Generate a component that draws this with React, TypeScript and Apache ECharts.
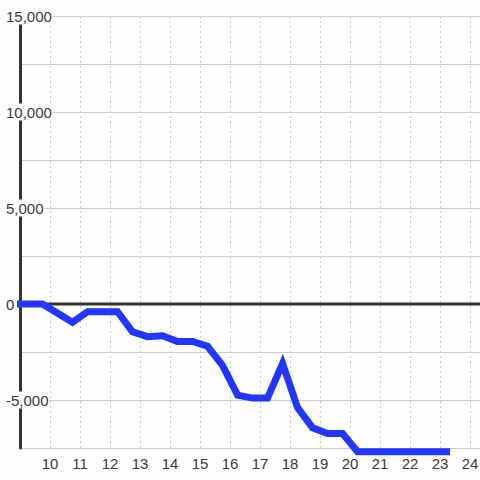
import React, { useEffect, useRef } from "react";
import * as echarts from "echarts";

const hours = [8.9, 9.75, 10.75, 11.25, 12.25, 12.75, 13.25, 13.75, 14.25, 14.75, 15.25, 15.75, 16.25, 16.75, 17.25, 17.75, 18.25, 18.75, 19.25, 19.75, 20.25, 23.33];
const values = [0, 0, -950, -400, -400, -1450, -1700, -1650, -1950, -1950, -2200, -3200, -4750, -4900, -4900, -3100, -5400, -6450, -6750, -6750, -7700, -7700];
const xTicks = [10, 11, 12, 13, 14, 15, 16, 17, 18, 19, 20, 21, 22, 23, 24];
const yLabelled = [-5000, 0, 5000, 10000, 15000];

const BG = "#fdfefd";
const FONT = "'Liberation Sans', Arial, sans-serif";

export default function App() {
  const ref = useRef<HTMLDivElement>(null);
  useEffect(() => {
    document.body.style.margin = "0";
    if (!ref.current) return;
    const chart = echarts.init(ref.current, null, { renderer: "svg" });
    chart.setOption({
      animation: false,
      backgroundColor: BG,
      grid: { left: 20, right: 0, top: 16, bottom: 32, containLabel: false, outerBoundsMode: "none" },
      xAxis: {
        type: "value",
        min: 9,
        max: 24.33,
        interval: 1,
        axisLine: { show: false },
        axisTick: { show: false },
        axisLabel: {
          color: "#3a3a3a",
          fontFamily: FONT,
          fontSize: 15,
          margin: 8,
          showMinLabel: true,
          showMaxLabel: true,
          formatter: (v: number) => (xTicks.indexOf(v) >= 0 ? String(v) : ""),
        },
        splitLine: { show: true, lineStyle: { color: "#cccccc", width: 1, type: [2, 3] } },
      },
      yAxis: {
        type: "value",
        min: -7500,
        max: 15000,
        interval: 2500,
        axisLine: { show: true, lineStyle: { color: "#333", width: 3 } },
        axisTick: { show: false },
        axisLabel: {
          align: "left",
          margin: 14,
          formatter: (v: number) =>
            yLabelled.indexOf(v) >= 0 ? `{b|${v.toLocaleString("en-US")}}` : "",
          rich: {
            b: {
              color: "#3a3a3a",
              fontFamily: FONT,
              fontSize: 15,
              align: "left",
              backgroundColor: BG,
              padding: [1, 1, 1, 0],
              lineHeight: 15,
            },
          },
        },
        splitLine: { show: true, lineStyle: { color: "#cccccc", width: 1 } },
      },
      series: [
        {
          type: "line",
          data: [[9, 0], [24.33, 0]],
          symbol: "none",
          lineStyle: { color: "#333", width: 3 },
          silent: true,
          z: 1,
        },
        {
          type: "line",
          data: hours.map((h, i) => [h, values[i]]),
          symbol: "none",
          clip: false,
          lineStyle: { color: "#2236ff", width: 7, join: "miter", cap: "butt" },
          z: 3,
        },
      ],
    });
    return () => chart.dispose();
  }, []);
  return <div ref={ref} style={{ width: 480, height: 480 }} />;
}
